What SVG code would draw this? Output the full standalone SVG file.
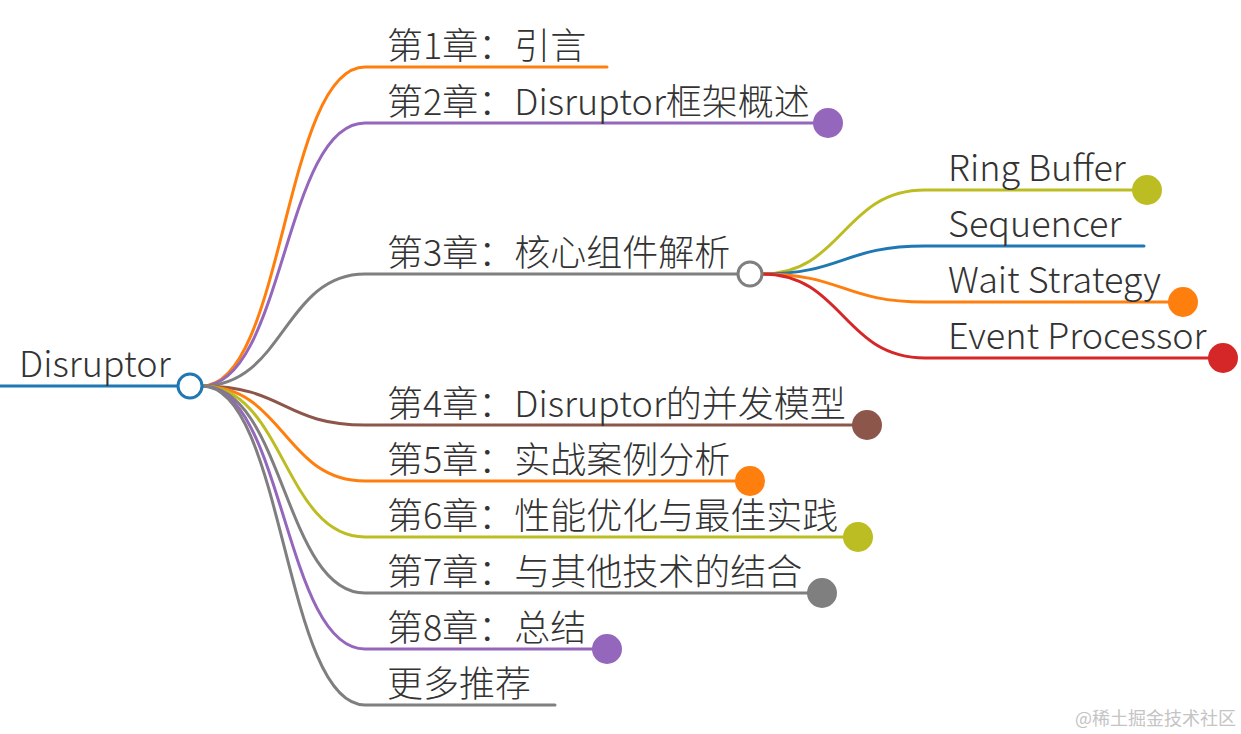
<svg xmlns="http://www.w3.org/2000/svg" width="1241" height="734" viewBox="0 0 1241 734">
<style>
.t{font-family:"Noto Sans CJK SC","Noto Sans",sans-serif;font-weight:300;font-size:36px;fill:#333}
.l{fill:none;stroke-width:3;stroke-linecap:round}
.wm{font-family:"Noto Sans CJK SC",sans-serif;font-size:18px;fill:#c4c4c4}
</style>
<rect width="1241" height="734" fill="#fff"/>
<g id="connectors">
<path class="l" stroke="#1f77b4" d="M0 386H178"/>
<path class="l" stroke="#ff7f0e" d="M202 386C284 386 284 67 365 67H607"/>
<path class="l" stroke="#9467bd" d="M202 386C284 386 284 123 365 123H828"/>
<path class="l" stroke="#7f7f7f" d="M202 386C284 386 284 274 365 274H738"/>
<path class="l" stroke="#8c564b" d="M202 386C284 386 284 425 365 425H867"/>
<path class="l" stroke="#ff7f0e" d="M202 386C284 386 284 481 365 481H750"/>
<path class="l" stroke="#bcbd22" d="M202 386C284 386 284 537 365 537H858"/>
<path class="l" stroke="#7f7f7f" d="M202 386C284 386 284 593 365 593H822"/>
<path class="l" stroke="#9467bd" d="M202 386C284 386 284 649 365 649H607"/>
<path class="l" stroke="#7f7f7f" d="M202 386C284 386 284 705 365 705H555"/>
<path class="l" stroke="#bcbd22" d="M762 274C843 274 843 190 925 190H1147"/>
<path class="l" stroke="#1f77b4" d="M762 274C843 274 843 246 925 246H1144"/>
<path class="l" stroke="#ff7f0e" d="M762 274C843 274 843 302 925 302H1183"/>
<path class="l" stroke="#d62728" d="M762 274C843 274 843 358 925 358H1223"/>
</g>
<g id="root">
<text class="t" x="19" y="377">Disruptor</text>
<circle cx="190" cy="386" r="12" fill="#fff" stroke="#1f77b4" stroke-width="3"/>
</g>
<g id="ch1"><text class="t" x="387" y="59">第1章：引言</text></g>
<g id="ch2"><text class="t" x="387" y="115">第2章：Disruptor框架概述</text><circle cx="828" cy="123" r="15" fill="#9467bd"/></g>
<g id="ch3"><text class="t" x="387" y="266">第3章：核心组件解析</text><circle cx="750" cy="274" r="12" fill="#fff" stroke="#7f7f7f" stroke-width="3"/></g>
<g id="ring"><text class="t" x="948" y="181">Ring Buffer</text><circle cx="1147" cy="190" r="15" fill="#bcbd22"/></g>
<g id="seq"><text class="t" x="948" y="237">Sequencer</text></g>
<g id="wait"><text class="t" x="948" y="293">Wait Strategy</text><circle cx="1183" cy="302" r="15" fill="#ff7f0e"/></g>
<g id="event"><text class="t" x="948" y="349">Event Processor</text><circle cx="1223" cy="358" r="15" fill="#d62728"/></g>
<g id="ch4"><text class="t" x="387" y="417">第4章：Disruptor的并发模型</text><circle cx="867" cy="425" r="15" fill="#8c564b"/></g>
<g id="ch5"><text class="t" x="387" y="473">第5章：实战案例分析</text><circle cx="750" cy="481" r="15" fill="#ff7f0e"/></g>
<g id="ch6"><text class="t" x="387" y="529">第6章：性能优化与最佳实践</text><circle cx="858" cy="537" r="15" fill="#bcbd22"/></g>
<g id="ch7"><text class="t" x="387" y="585">第7章：与其他技术的结合</text><circle cx="822" cy="593" r="15" fill="#7f7f7f"/></g>
<g id="ch8"><text class="t" x="387" y="641">第8章：总结</text><circle cx="607" cy="649" r="15" fill="#9467bd"/></g>
<g id="more"><text class="t" x="387" y="697">更多推荐</text></g>
<text class="wm" x="1075" y="725">@稀土掘金技术社区</text>
</svg>
